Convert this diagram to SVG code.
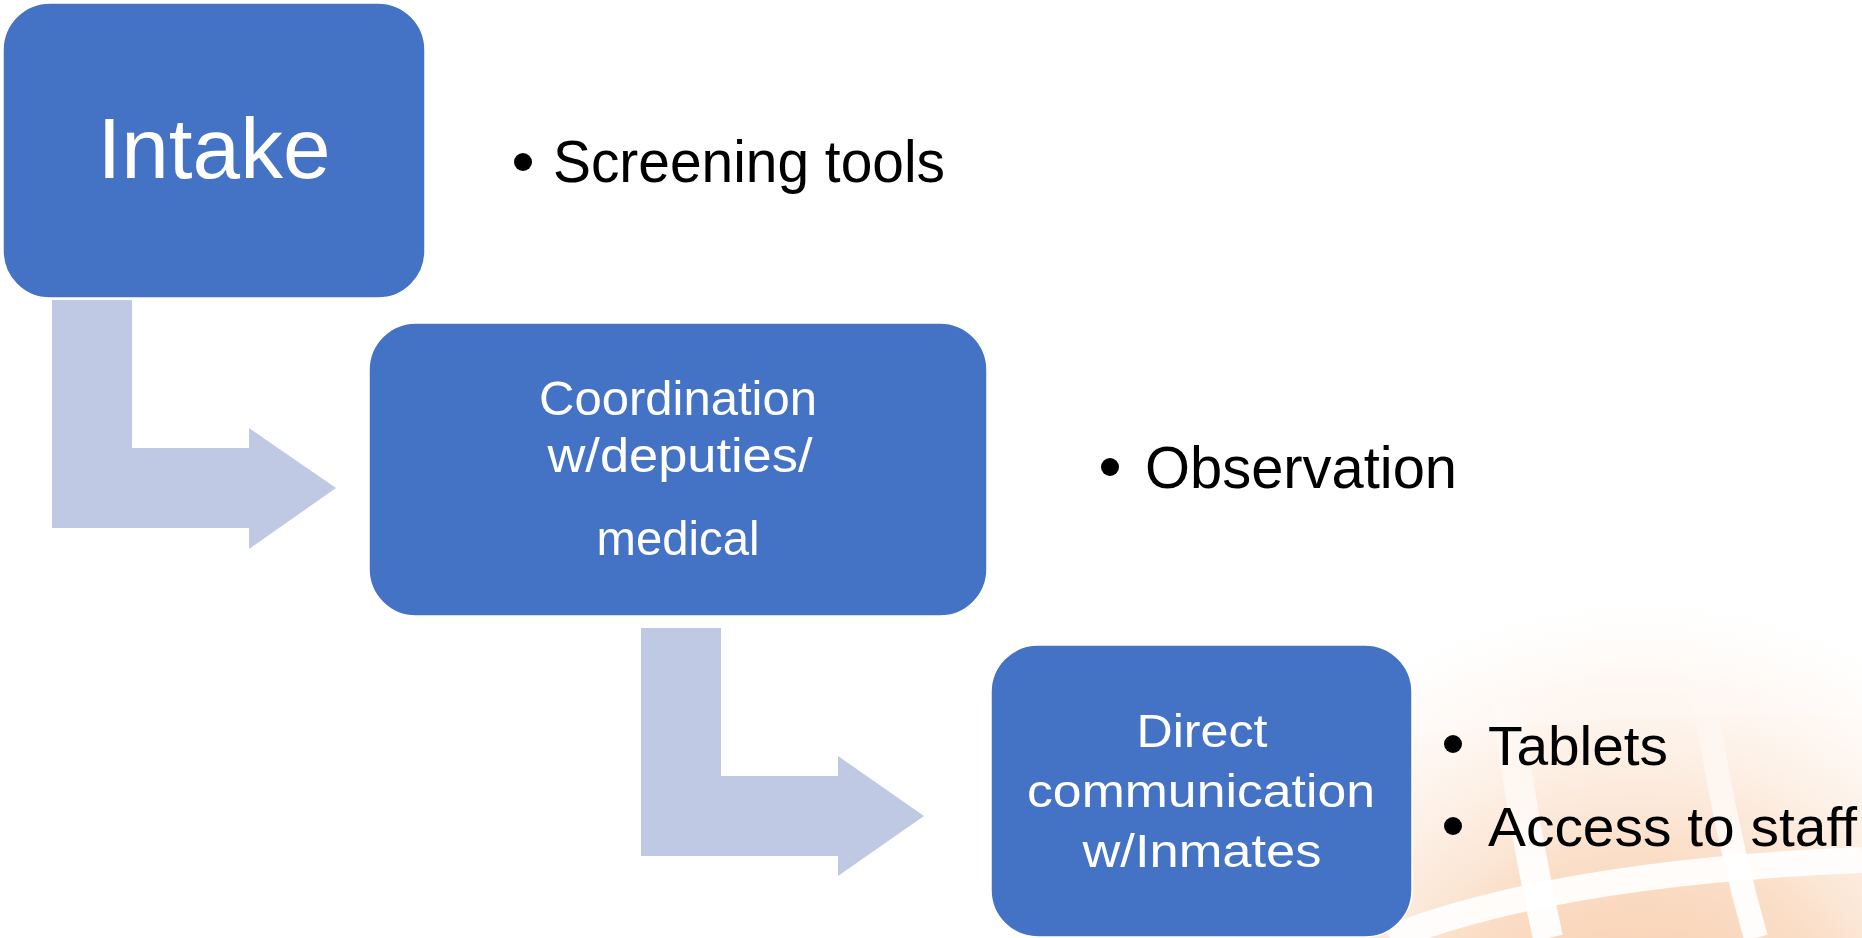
<svg xmlns="http://www.w3.org/2000/svg" width="1862" height="938" viewBox="0 0 1862 938">
  <defs>
    <radialGradient id="peach" gradientUnits="userSpaceOnUse" cx="1640" cy="1080" r="500">
      <stop offset="0" stop-color="#F6BF95" stop-opacity="0.9"/>
      <stop offset="0.45" stop-color="#F9D3B5" stop-opacity="0.75"/>
      <stop offset="0.8" stop-color="#FCE8D8" stop-opacity="0.3"/>
      <stop offset="1" stop-color="#FFFFFF" stop-opacity="0"/>
    </radialGradient>
    <linearGradient id="bandfade" gradientUnits="userSpaceOnUse" x1="0" y1="690" x2="0" y2="860">
      <stop offset="0" stop-color="#FFFFFF" stop-opacity="0"/>
      <stop offset="1" stop-color="#FFFFFF" stop-opacity="0.95"/>
    </linearGradient>
    <style>
      .box { fill: #4472C4; stroke: #FFFFFF; stroke-width: 1.5; }
      .arrow { fill: #BFC9E4; }
      .lbl { fill: #FFFFFF; font-family: "Liberation Sans", Arial, sans-serif; text-anchor: middle; }
      .bul { fill: #000000; font-family: "Liberation Sans", Arial, sans-serif; }
      .dot { fill: #000000; }
      .band { fill: none; stroke: url(#bandfade); stroke-linecap: butt; }
    </style>
  </defs>

  <rect x="0" y="0" width="1862" height="938" fill="#FFFFFF"/>

  <!-- background decoration -->
  <g id="background">
    <rect x="1180" y="560" width="682" height="378" fill="url(#peach)"/>
    <path class="band" d="M1400,728 Q1600,700 1862,706" stroke-width="20"/>
    <path class="band" d="M1505,690 Q1522,820 1548,938" stroke-width="30"/>
    <path class="band" d="M1702,680 Q1722,820 1756,938" stroke-width="24"/>
    <path d="M1390,938 Q1560,872 1862,860" fill="none" stroke="#FFFFFF" stroke-opacity="0.9" stroke-width="26"/>
  </g>

  <!-- connectors -->
  <g id="connectors">
    <polygon class="arrow" points="52,300 132,300 132,448 249,448 249,428 336,488 249,549 249,528 52,528"/>
    <polygon class="arrow" points="641,628 721,628 721,776 838,776 838,756 924,816 838,876 838,856 641,856"/>
  </g>

  <!-- nodes -->
  <g id="node-intake">
    <rect class="box" x="3" y="3" width="422" height="295" rx="47" ry="47"/>
    <text class="lbl" x="214" y="178" font-size="85" textLength="233" lengthAdjust="spacingAndGlyphs">Intake</text>
  </g>

  <g id="node-coordination">
    <rect class="box" x="369" y="323" width="618" height="293" rx="47" ry="47"/>
    <text class="lbl" x="678" y="415" font-size="49" textLength="278" lengthAdjust="spacingAndGlyphs">Coordination</text>
    <text class="lbl" x="680" y="472" font-size="49" textLength="265" lengthAdjust="spacingAndGlyphs">w/deputies/</text>
    <text class="lbl" x="678" y="555" font-size="49" textLength="163" lengthAdjust="spacingAndGlyphs">medical</text>
  </g>

  <g id="node-direct">
    <rect class="box" x="991" y="645" width="421" height="292" rx="47" ry="47"/>
    <text class="lbl" x="1202" y="747" font-size="47" textLength="131" lengthAdjust="spacingAndGlyphs">Direct</text>
    <text class="lbl" x="1201" y="807" font-size="47" textLength="348" lengthAdjust="spacingAndGlyphs">communication</text>
    <text class="lbl" x="1202" y="867" font-size="47" textLength="239" lengthAdjust="spacingAndGlyphs">w/Inmates</text>
  </g>

  <g id="bullets-intake">
    <circle class="dot" cx="523" cy="162" r="9"/>
    <text class="bul" x="553" y="182" font-size="60" textLength="392" lengthAdjust="spacingAndGlyphs">Screening tools</text>
  </g>

  <g id="bullets-coordination">
    <circle class="dot" cx="1110" cy="467" r="9"/>
    <text class="bul" x="1145" y="488" font-size="60" textLength="312" lengthAdjust="spacingAndGlyphs">Observation</text>
  </g>

  <g id="bullets-direct">
    <circle class="dot" cx="1453" cy="744" r="9"/>
    <text class="bul" x="1488" y="765" font-size="56" textLength="180" lengthAdjust="spacingAndGlyphs">Tablets</text>
    <circle class="dot" cx="1453" cy="826" r="9"/>
    <text class="bul" x="1488" y="846" font-size="56" textLength="369" lengthAdjust="spacingAndGlyphs">Access to staff</text>
  </g>
</svg>
